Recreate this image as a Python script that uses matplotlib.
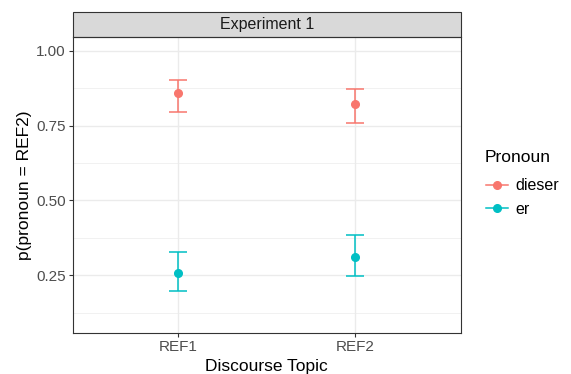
import matplotlib

matplotlib.use("Agg")
import matplotlib.pyplot as plt
from matplotlib.lines import Line2D
from matplotlib.patches import Rectangle
import numpy as np

CATEGORIES = ["REF1", "REF2"]
PRONOUNS = ["dieser", "er"]
MEANS = {"dieser": [0.859, 0.823], "er": [0.259, 0.312]}
LOWER = {"dieser": [0.797, 0.758], "er": [0.199, 0.247]}
UPPER = {"dieser": [0.903, 0.873], "er": [0.329, 0.386]}
COLORS = {"dieser": "#F8766D", "er": "#00BFC4"}
Y_TICKS = [0.25, 0.50, 0.75, 1.00]

plt.rcParams.update({"font.family": ["Liberation Sans", "DejaVu Sans"]})

fig = plt.figure(figsize=(5.71, 3.74), dpi=100)
ax = fig.add_axes([0.127, 0.110, 0.680, 0.792])

x = np.arange(1, len(CATEGORIES) + 1)
for pron in PRONOUNS:
    m = np.array(MEANS[pron])
    lo = m - np.array(LOWER[pron])
    hi = np.array(UPPER[pron]) - m
    ax.errorbar(x, m, yerr=[lo, hi], fmt="o", color=COLORS[pron], ms=5.5,
                capsize=6.5, capthick=1.1, elinewidth=1.1, zorder=3)

ax.set_xlim(0.4, 2.6)
ax.set_ylim(0.058, 1.047)
ax.set_xticks(x)
ax.set_xticklabels(CATEGORIES)
ax.set_yticks(Y_TICKS)
ax.set_yticklabels([f"{v:.2f}" for v in Y_TICKS])
ax.set_yticks([0.125, 0.375, 0.625, 0.875], minor=True)
ax.grid(True, which="major", color="#EBEBEB", lw=1.0, zorder=0)
ax.grid(True, which="minor", axis="y", color="#EBEBEB", lw=0.5, zorder=0)
ax.set_axisbelow(True)
ax.tick_params(axis="both", which="major", colors="#333333", labelcolor="#4D4D4D",
               labelsize=11, length=3, width=0.8, pad=2)
ax.tick_params(axis="y", which="minor", length=0)
for s in ax.spines.values():
    s.set_color("#333333")
    s.set_linewidth(0.8)

ax.set_xlabel("Discourse Topic", fontsize=12.5, labelpad=4)
ax.set_ylabel("p(pronoun = REF2)", fontsize=12.5, labelpad=3)

# facet strip
strip = Rectangle((0, 1.0), 1, 25 / (0.792 * 374), transform=ax.transAxes,
                  facecolor="#D9D9D9", edgecolor="#333333", lw=0.8, clip_on=False)
ax.add_patch(strip)
ax.text(0.5, 1.0 + 12.5 / (0.792 * 374), "Experiment 1", transform=ax.transAxes,
        ha="center", va="center", fontsize=11.5, color="#1A1A1A")

# legend: title drawn separately for ggplot-like spacing
fig.text(485 / 571, 1 - 158 / 374, "Pronoun", fontsize=12.5, ha="left", va="center")
handles = [Line2D([0], [0], color=COLORS[p], marker="o", ms=5.5, lw=1.1) for p in PRONOUNS]
leg = fig.legend(handles, PRONOUNS, loc="upper left",
                 bbox_to_anchor=(0.838, 0.545), frameon=False, fontsize=11.5,
                 handlelength=1.35, handletextpad=0.45, labelspacing=0.55,
                 borderpad=0)

fig.savefig("out.png", dpi=100)
